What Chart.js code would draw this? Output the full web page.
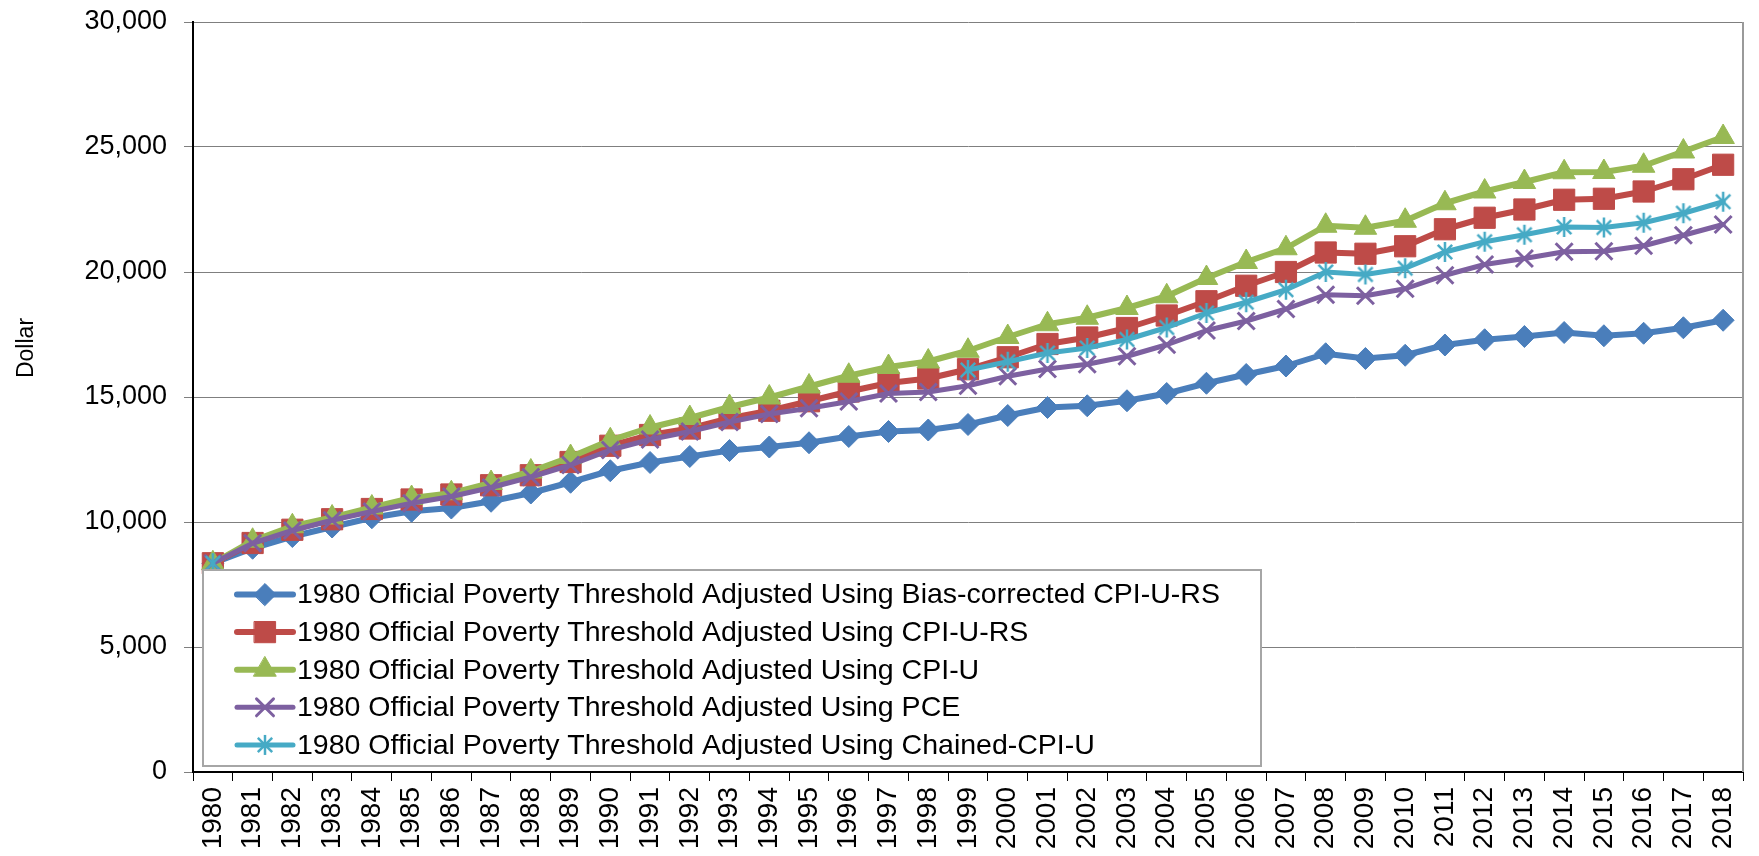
<!DOCTYPE html>
<html><head><meta charset="utf-8">
<script src="https://cdn.jsdelivr.net/npm/chart.js@4.4.1/dist/chart.umd.min.js"></script>
<style>html,body{margin:0;padding:0;background:#fff;}canvas{display:block;}</style>
</head><body>
<canvas id="c" width="1759" height="856"></canvas>
<script>
const years = ['1980','1981','1982','1983','1984','1985','1986','1987','1988','1989','1990','1991','1992','1993','1994','1995','1996','1997','1998','1999','2000','2001','2002','2003','2004','2005','2006','2007','2008','2009','2010','2011','2012','2013','2014','2015','2016','2017','2018'];
const biasCorrectedCPIURS = [8350,8950,9420,9800,10170,10430,10560,10830,11160,11590,12050,12380,12620,12860,13000,13170,13420,13620,13680,13900,14260,14580,14650,14850,15140,15550,15900,16240,16730,16540,16670,17080,17290,17420,17580,17450,17550,17770,18070];
const cpiURS = [8350,9160,9690,10110,10520,10900,11100,11470,11870,12400,13050,13480,13740,14150,14450,14830,15220,15560,15740,16110,16590,17120,17380,17760,18260,18830,19450,20000,20780,20730,21030,21710,22170,22500,22890,22930,23220,23710,24290];
const cpiU = [8350,9250,9830,10180,10580,10960,11150,11560,12020,12600,13270,13780,14160,14600,14980,15420,15850,16200,16420,16850,17400,17910,18170,18560,19030,19760,20400,20950,21850,21770,22050,22750,23220,23600,23990,24000,24250,24820,25400];
const pce = [8350,9150,9660,10070,10420,10750,11020,11380,11800,12280,12880,13300,13620,14000,14320,14550,14820,15140,15200,15450,15830,16120,16310,16630,17090,17660,18040,18520,19090,19050,19330,19870,20300,20540,20810,20830,21050,21470,21900];
const chainedCPIU = [8350,null,null,null,null,null,null,null,null,null,null,null,null,null,null,null,null,null,null,16080,16410,16760,16960,17300,17780,18360,18790,19290,20000,19900,20150,20800,21210,21490,21800,21780,21970,22350,22810];
const seriesLabels = [
  '1980 Official Poverty Threshold Adjusted Using Bias-corrected CPI-U-RS',
  '1980 Official Poverty Threshold Adjusted Using CPI-U-RS',
  '1980 Official Poverty Threshold Adjusted Using CPI-U',
  '1980 Official Poverty Threshold Adjusted Using PCE',
  '1980 Official Poverty Threshold Adjusted Using Chained-CPI-U'
];
const yTickValues = [0,5000,10000,15000,20000,25000,30000];
const yAxisTitle = 'Dollar';

const FONT = "'Liberation Sans', Arial, sans-serif";

function makeAsterisk(color, size, lw) {
  const c = document.createElement('canvas');
  c.width = size; c.height = size;
  const g = c.getContext('2d');
  g.strokeStyle = color; g.lineWidth = lw;
  const m = size / 2, r = size / 2 - 2, d = r * 0.72;
  g.beginPath();
  g.moveTo(m - d, m - d); g.lineTo(m + d, m + d);
  g.moveTo(m + d, m - d); g.lineTo(m - d, m + d);
  g.moveTo(m, m - r); g.lineTo(m, m + r);
  g.stroke();
  return c;
}
const asterisk = makeAsterisk('#46AAC5', 24, 2.5);

function ds(label, data, color, style, radius, order, pbw) {
  return {
    label, data, borderColor: color, backgroundColor: color,
    borderWidth: 6, borderJoinStyle: 'round', borderCapStyle: 'round',
    pointStyle: style, pointRadius: radius, pointHoverRadius: radius,
    pointBackgroundColor: color, pointBorderColor: color, pointBorderWidth: pbw,
    tension: 0, spanGaps: false, order
  };
}

const datasets = [
  ds(seriesLabels[0], biasCorrectedCPIURS, '#4A7EBB', 'rectRot', 11, 5, 1),
  ds(seriesLabels[1], cpiURS, '#BE4B48', 'rect', 15, 4, 1),
  ds(seriesLabels[2], cpiU, '#98B954', 'triangle', 13, 3, 1),
  ds(seriesLabels[3], pce, '#7D60A0', 'crossRot', 12, 2, 3),
  ds(seriesLabels[4], chainedCPIU, '#46AAC5', asterisk, 12, 1, 1)
];
datasets[3].borderWidth = 5;
datasets[4].borderWidth = 5;

const plotBorder = {
  id: 'plotBorder',
  beforeDatasetsDraw(chart) {
    const a = chart.chartArea, ctx = chart.ctx;
    ctx.save();
    ctx.strokeStyle = '#9a9a9a'; ctx.lineWidth = 2;
    ctx.beginPath();
    ctx.moveTo(a.right, a.top); ctx.lineTo(a.right, a.bottom);
    ctx.stroke();
    ctx.restore();
  }
};

const boxLegend = {
  id: 'boxLegend',
  afterDraw(chart) {
    const ctx = chart.ctx;
    const left = 203, top = 570, right = 1261, bottom = 766;
    ctx.save();
    ctx.fillStyle = '#ffffff';
    ctx.fillRect(left, top, right - left, bottom - top);
    ctx.strokeStyle = '#a6a6a6'; ctx.lineWidth = 2;
    ctx.strokeRect(left, top, right - left, bottom - top);
    const rowH = 37.6, y0 = 594.5;
    chart.data.datasets.forEach((d, i) => {
      const y = y0 + i * rowH;
      ctx.strokeStyle = d.borderColor; ctx.lineWidth = d.borderWidth; ctx.lineCap = 'round';
      ctx.beginPath(); ctx.moveTo(237, y); ctx.lineTo(293, y); ctx.stroke();
      ctx.fillStyle = d.pointBackgroundColor;
      ctx.strokeStyle = d.pointBorderColor;
      ctx.lineWidth = d.pointBorderWidth;
      Chart.helpers.drawPoint(ctx, {
        pointStyle: d.pointStyle, radius: d.pointRadius, borderWidth: d.pointBorderWidth,
        rotation: 0
      }, 265, y);
      ctx.fillStyle = '#000';
      ctx.font = '28.5px ' + FONT;
      ctx.textBaseline = 'middle'; ctx.textAlign = 'left';
      ctx.fillText(d.label, 297, y + 1);
    });
    ctx.save();
    ctx.translate(27, 348);
    ctx.rotate(-Math.PI / 2);
    ctx.fillStyle = '#000';
    ctx.font = '23px ' + FONT;
    ctx.textAlign = 'center'; ctx.textBaseline = 'middle';
    ctx.fillText(yAxisTitle, 0, 0);
    ctx.restore();
    ctx.restore();
  }
};

new Chart(document.getElementById('c'), {
  type: 'line',
  data: { labels: years, datasets },
  options: {
    responsive: false, animation: false, devicePixelRatio: 1,
    layout: { padding: { top: 22, right: 8, left: 0, bottom: 0 } },
    plugins: { legend: { display: false }, tooltip: { enabled: false } },
    elements: { point: { hitRadius: 0 } },
    scales: {
      x: {
        type: 'category', offset: true,
        grid: { display: true, offset: true, drawOnChartArea: false, drawTicks: true, tickLength: 9, color: '#000', lineWidth: 1 },
        border: { display: true, color: '#000', width: 2 },
        ticks: { color: '#000', font: { family: FONT, size: 28 }, minRotation: 90, maxRotation: 90, autoSkip: false, padding: 6 },
        afterFit(s) { s.height = 84; s.paddingLeft = 0; s.paddingRight = 0; }
      },
      y: {
        min: 0, max: 30000,
        afterBuildTicks(s) { s.ticks = yTickValues.map(v => ({ value: v })); },
        grid: { color: '#7f7f7f', lineWidth: 1, tickLength: 9, drawTicks: true },
        border: { display: true, color: '#000', width: 2 },
        ticks: { color: '#000', font: { family: FONT, size: 27 }, padding: 17,
          callback: v => Number(v).toLocaleString('en-US') },
        afterFit(s) { s.width = 193; s.paddingTop = 0; s.paddingBottom = 0; }
      }
    }
  },
  plugins: [plotBorder, boxLegend]
});
</script>
</body></html>
